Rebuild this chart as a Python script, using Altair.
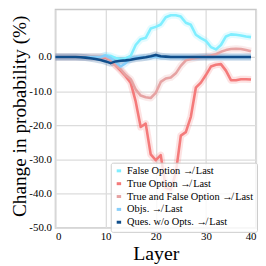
import altair as alt
import pandas as pd

layers = list(range(40))

false_opt = [0, 0, 0, 0, 0, 0, 0, 0, 0, 0,
             0.5, 0.3, -0.3, -0.6, -0.4, 0.3, 3.5, 5.2, 5.6, 8.3,
             8.8, 9.5, 11.6, 12.2, 12.2, 11.8, 10.0, 9.4, 6.5, 5.5,
             4.7, 2.9, 2.2, 3.5, 6.0, 6.6, 6.5, 6.3, 6.0, 5.8]
true_opt = [0, 0, 0, 0, 0, 0, 0, 0, 0, 0,
            -0.2, -0.8, -2.5, -4.0, -5.6, -7.5, -13.0, -20.5, -19.5, -28.5,
            -30.2, -28.7, -38.3, -38.8, -34.0, -23.0, -22.0, -17.5, -9.0, -7.5,
            -5.3, -2.8, -2.3, -2.1, -4.0, -6.8, -6.8, -6.5, -6.5, -6.6]
true_false = [0, 0, 0, 0, 0, 0, 0, 0, 0, 0,
              0, -0.8, -2.5, -3.6, -5.3, -6.5, -9.5, -11.3, -11.8, -12.0,
              -10.5, -7.3, -6.3, -6.0, -4.8, -2.6, -1.0, -0.6, -0.3, 0.0,
              0.2, 0.4, 0.8, 1.5, 2.0, 2.3, 2.4, 2.3, 2.0, 1.7]
objs = [0, 0, 0, 0, 0, 0, 0, 0, 0, 0,
        0.4, -0.3, -1.5, -2.8, -1.8, -0.5, -0.2, 0, 0, 0,
        0, 0, 0, 0, 0, 0, 0, 0, 0, 0,
        0, 0, 0, 0, 0, 0, 0, 0, 0, 0]
ques = [0, 0, 0, 0, 0, -0.1, -0.2, -0.4, -0.6, -0.9,
        -1.3, -1.8, -1.3, -1.1, -1.0, -0.8, -0.5, -0.3, -0.1, 0.2,
        0.6, 0.2, 0.1, 0, 0, 0, 0, 0, 0, 0,
        0, 0, 0, 0, 0, 0, 0, 0, 0, 0]

names = ["False Option ↛ Last", "True Option ↛ Last",
         "True and False Option ↛ Last", "Objs. ↛ Last", "Ques. w/o Opts. ↛ Last"]
colors = ["#7FEEFF", "#F47A7A", "#E6A3A3", "#87CEFA", "#104E8B"]
series = [false_opt, true_opt, true_false, objs, ques]

rows = []
for name, vals in zip(names, series):
    for l, v in zip(layers, vals):
        rows.append({"layer": l, "value": v, "series": name})
df = pd.DataFrame(rows)

FONT = "Liberation Serif"

x_enc = alt.X("layer:Q", scale=alt.Scale(domain=[0, 40], nice=False),
              axis=alt.Axis(values=[0, 10, 20, 30, 40], title="Layer", format="d",
                            titleX=101.5, titleY=32, titleBaseline="alphabetic",
                            labelPadding=3, labelFont=FONT, labelFontSize=11,
                            titleFont=FONT, titleFontSize=20))
y_enc = alt.Y("value:Q", scale=alt.Scale(domain=[-50, 13.87], nice=False, zero=False),
              axis=alt.Axis(values=[-50, -40, -30, -20, -10, 0],
                            labelExpr="datum.value == 0 ? '0.0' : '-' + format(abs(datum.value), '.1f')",
                            title="Change in probability (%)",
                            titleX=-30.5, titleY=107.5, titleBaseline="alphabetic",
                            titleAngle=270, labelPadding=4, labelFont=FONT,
                            labelFontSize=11, titleFont=FONT, titleFontSize=19.5))
color_enc = alt.Color("series:N", scale=alt.Scale(domain=names, range=colors),
                      legend=alt.Legend(orient="none", legendX=56, legendY=155,
                                        title=None, labelFont=FONT, labelFontSize=10.5))

base = alt.Chart(df)
charts = []
for name, col in zip(names, colors):
    band = base.transform_filter(alt.datum.series == name).mark_line(
        strokeWidth=7, opacity=0.22, color=col, strokeJoin="round"
    ).encode(x=x_enc, y=y_enc)
    charts.append(band)
for name in names:
    line = base.transform_filter(alt.datum.series == name).mark_line(
        strokeWidth=2.6, strokeJoin="round"
    ).encode(x=x_enc, y=y_enc, color=color_enc)
    charts.append(line)

chart = alt.layer(*charts).properties(
    width=203, height=221,
    autosize=alt.AutoSizeParams(type="none"),
    padding={"left": 48, "top": 0, "right": 2, "bottom": 37},
).configure(
    font=FONT
).configure_view(
    stroke="#c8c8c8", strokeWidth=1.5
).configure_axis(
    grid=True, gridColor="#dcdcdc", gridWidth=1.3, domain=False, ticks=False,
    labelFont=FONT, labelFontSize=11, labelColor="#000000",
    titleFont=FONT, titleFontSize=19.5, titleFontWeight="normal", titleColor="#000000",
).configure_legend(
    fillColor="rgba(255,255,255,0.8)", strokeColor="#cccccc", padding=3,
    cornerRadius=2, labelFont=FONT, labelFontSize=10.5, labelColor="#000000",
    symbolType="stroke", symbolStrokeWidth=3, symbolSize=20, rowPadding=0,
    labelOffset=3, labelLimit=400, symbolOpacity=1
)

chart.save("out.html", embed_options={"renderer": "svg", "actions": False})
